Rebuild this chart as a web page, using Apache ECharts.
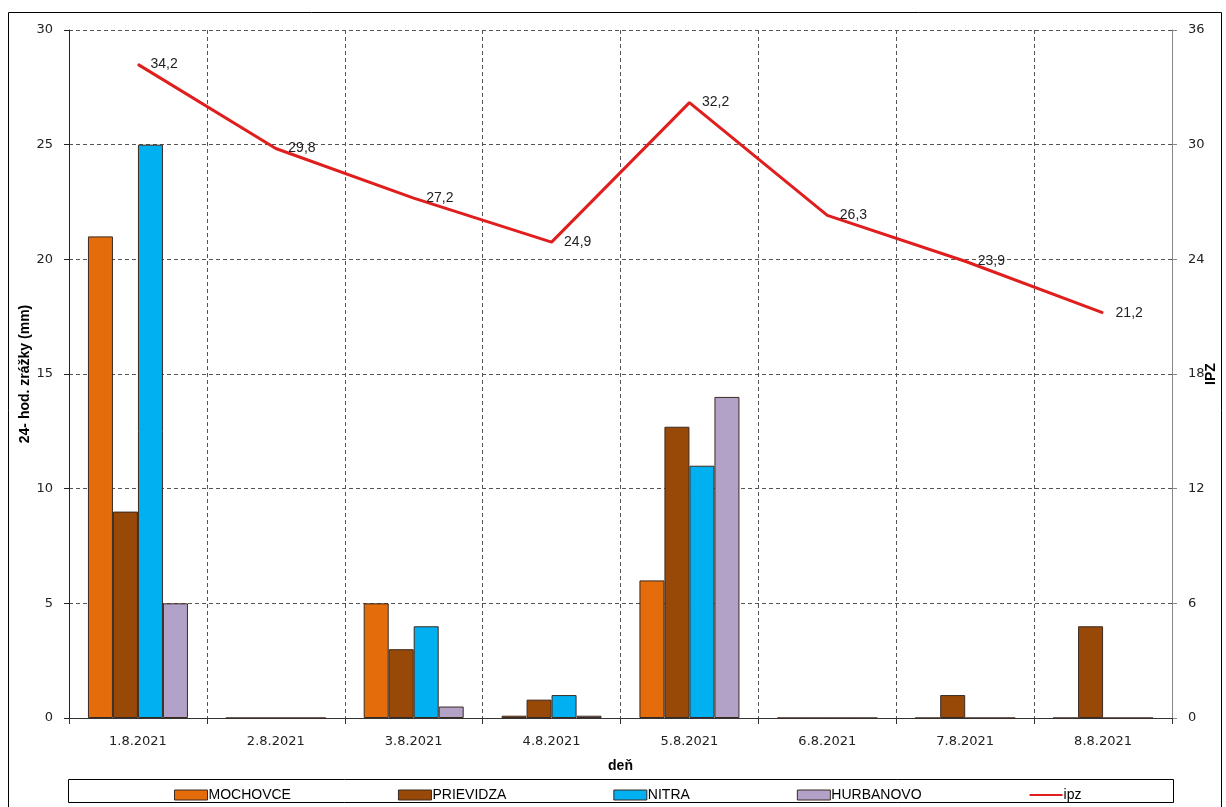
<!DOCTYPE html>
<html>
<head>
<meta charset="utf-8">
<script src="https://cdn.jsdelivr.net/npm/echarts@6/dist/echarts.min.js"></script>
<style>
  html, body { margin: 0; padding: 0; background: #fff; }
  #chart { width: 1226px; height: 807px; }
</style>
</head>
<body>
<div id="chart"></div>
<script>
// Days of the observation period
const days = ['1.8.2021', '2.8.2021', '3.8.2021', '4.8.2021', '5.8.2021', '6.8.2021', '7.8.2021', '8.8.2021'];

// 24-hour precipitation totals (mm) per station
const mochovce  = [21, 0, 5, 0.1, 6, 0, 0, 0];
const prievidza = [9, 0, 3, 0.8, 12.7, 0, 1, 4];
const nitra     = [25, 0, 4, 1, 11, 0, 0, 0];
const hurbanovo = [5, 0, 0.5, 0.1, 14, 0, 0, 0];

// Precipitation index (IPZ)
const ipz = [34.2, 29.8, 27.2, 24.9, 32.2, 26.3, 23.9, 21.2];

const stationNames = ['MOCHOVCE', 'PRIEVIDZA', 'NITRA', 'HURBANOVO'];
const stationData = [mochovce, prievidza, nitra, hurbanovo];
const stationColors = ['#E46C0A', '#984807', '#00B0F0', '#B3A2C7'];

const tickFont = { fontFamily: 'DejaVu Sans', fontSize: 13, color: '#222' };
const titleFont = { fontFamily: 'Liberation Sans Narrow, Liberation Sans, sans-serif', fontSize: 14, fontWeight: 'bold', color: '#000' };
const dashed = { color: '#555', type: [4, 3], width: 1 };

const barSeries = stationNames.map((name, i) => ({
  name: name,
  type: 'bar',
  yAxisIndex: 0,
  barWidth: 25,
  barGap: '0%',
  data: stationData[i],
  itemStyle: { color: stationColors[i], borderColor: '#3a2a20', borderWidth: 1 }
}));

const chart = echarts.init(document.getElementById('chart'), null, { renderer: 'canvas' });

chart.setOption({
  backgroundColor: '#fff',
  animation: false,
  graphic: [
    {
      type: 'rect', silent: true, z: -1,
      shape: { x: 8.5, y: 12.5, width: 1213, height: 800 },
      style: { fill: 'none', stroke: '#000', lineWidth: 1 }
    },
    {
      type: 'rect', silent: true, z: -1,
      shape: { x: 68.5, y: 779.5, width: 1105, height: 23 },
      style: { fill: '#fff', stroke: '#000', lineWidth: 1 }
    }
  ],
  grid: { left: 69, right: 54, top: 30, bottom: 89, containLabel: false, outerBoundsMode: 'none' },
  legend: {
    top: 783,
    left: 169,
    itemWidth: 33,
    itemHeight: 10,
    itemGap: 107,
    textStyle: { fontFamily: 'Liberation Sans Narrow, Liberation Sans, sans-serif', fontSize: 14, color: '#000', padding: [0, 0, 0, -4] },
    data: [
      { name: 'MOCHOVCE', icon: 'rect', itemStyle: { borderColor: '#3a2a20', borderWidth: 1 } },
      { name: 'PRIEVIDZA', icon: 'rect', itemStyle: { borderColor: '#3a2a20', borderWidth: 1 } },
      { name: 'NITRA', icon: 'rect', itemStyle: { borderColor: '#3a2a20', borderWidth: 1 } },
      { name: 'HURBANOVO', icon: 'rect', itemStyle: { borderColor: '#3a2a20', borderWidth: 1 } },
      { name: 'ipz', itemStyle: { opacity: 0 } }
    ]
  },
  xAxis: {
    type: 'category',
    data: days,
    boundaryGap: true,
    name: 'deň',
    nameLocation: 'middle',
    nameGap: 41,
    nameMoveOverlap: false,
    nameTextStyle: titleFont,
    axisLine: { lineStyle: { color: '#333', width: 1 } },
    axisTick: { show: true, alignWithLabel: false, length: 6, lineStyle: { color: '#333' } },
    axisLabel: Object.assign({ margin: 17, interval: 0 }, tickFont),
    splitLine: { show: true, interval: 0, lineStyle: dashed }
  },
  yAxis: [
    {
      type: 'value',
      min: 0, max: 30, interval: 5,
      name: '24- hod. zrážky (mm)',
      nameLocation: 'middle',
      nameGap: 37,
      nameRotate: 90,
      nameMoveOverlap: false,
      nameTextStyle: titleFont,
      axisLine: { show: true, lineStyle: { color: '#222', width: 1 } },
      axisTick: { show: true, length: 5, lineStyle: { color: '#222' } },
      axisLabel: Object.assign({ margin: 16 }, tickFont),
      splitLine: { show: true, lineStyle: dashed }
    },
    {
      type: 'value',
      min: 0, max: 36, interval: 6,
      position: 'right',
      name: 'IPZ',
      nameLocation: 'middle',
      nameGap: 32,
      nameRotate: 90,
      nameMoveOverlap: false,
      nameTextStyle: titleFont,
      axisLine: { show: true, lineStyle: { color: '#888', width: 1 } },
      axisTick: { show: true, inside: false, length: 5, lineStyle: { color: '#888' } },
      axisLabel: Object.assign({ margin: 16 }, tickFont),
      splitLine: { show: false }
    }
  ],
  series: barSeries.concat([
    {
      name: 'ipz',
      type: 'line',
      yAxisIndex: 1,
      data: ipz,
      symbol: 'circle',
      symbolSize: 1,
      showSymbol: true,
      z: 5,
      lineStyle: { color: '#E01E1E', width: 3 },
      itemStyle: { color: '#E01E1E' },
      label: {
        show: true,
        position: 'right',
        distance: 12,
        fontFamily: 'Liberation Sans, sans-serif',
        fontSize: 14,
        color: '#222',
        formatter: p => String(p.value).replace('.', ',')
      }
    }
  ])
});
</script>
</body>
</html>
